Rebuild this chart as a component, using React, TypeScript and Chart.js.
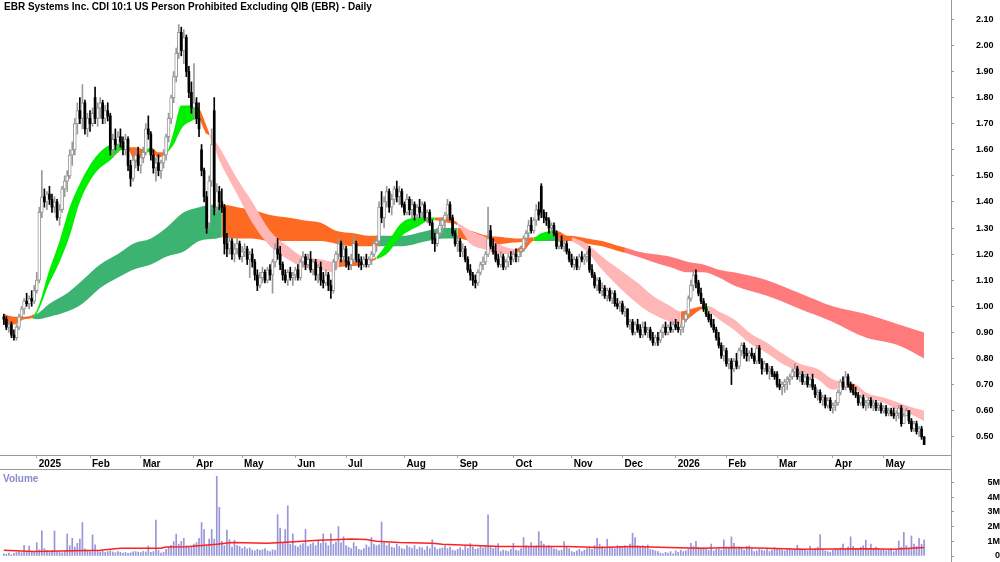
import React, { useEffect, useRef } from 'react';
import { Chart, registerables } from 'chart.js';

Chart.register(...registerables);

const FONT = '"Liberation Sans", Arial, Helvetica, sans-serif';
const TITLE = 'EBR Systems Inc. CDI 10:1 US Person Prohibited Excluding QIB (EBR) - Daily';

// Daily bars (prices in cents), one entry per trading day, mid Dec 2024 .. late May 2026
const opens = [
  96,95,92,93,89,88,92,96,99,102, 101,103,102,106,110,136,142,140,143,141,
  138,140,134,137,145,148,150,158,160,170, 175,172,178,168,172,170,180,172,176,178,
  172,175,173,160,164,162,165,163,160,164, 154,149,156,158,154,157,159,168,166,158,
  153,155,152,155,158,165,172,180,188,197, 205,198,203,190,182,176,178,172,160,152,
  142,132,148,175,138,144,140,138,124,122, 125,120,122,124,119,121,122,118,120,117,
  112,108,111,113,110,114,112,117,122,120, 116,112,110,113,111,112,114,111,117,119,
  116,118,114,117,112,115,110,109,112,108, 106,117,120,124,119,122,117,116,118,124,
  118,117,116,118,116,118,120,124,125,138, 134,140,144,138,141,145,142,144,139,136,
  141,137,139,135,138,136,139,134,136,132, 126,124,128,131,133,135,139,134,128,124,
  125,121,122,118,114,112,110,109,113,116, 117,120,129,123,121,118,116,119,115,117,
  119,118,120,119,121,122,126,128,131,129, 133,137,146,136,134,133,130,131,128,123,
  125,123,124,121,118,116,118,115,119,118, 119,122,114,112,108,110,106,107,104,106,
  103,105,101,100,101,98,99,93,94,90, 93,91,89,92,90,91,88,86,88,87,
  90,92,90,92,91,93,92,91,92,95, 97,103,108,112,109,105,102,99,97,95,
  93,91,88,85,81,83,78,79,76,79, 77,83,85,82,81,82,81,79,84,79,
  76,78,75,76,74,74,70,69,70,71, 72,73,75,76,73,74,71,73,70,72,
  69,66,67,64,65,62,64,61,62,63, 67,71,69,73,70,68,67,66,63,65,
  62,63,64,62,63,61,62,60,61,59, 60,59,58,59,61,55,58,60,56,53,
  55,52,53,50,
];
const highs = [
  97,96,94,94,91,93,97,100,103,105, 104,106,108,113,138,152,145,144,146,143,
  142,141,139,146,150,152,160,163,172,178, 180,185,179,174,175,176,184,178,180,179,
  177,178,174,166,168,167,168,165,166,165, 156,157,160,161,158,161,170,173,167,160,
  157,158,156,160,166,174,181,190,199,208, 207,206,204,192,186,193,180,178,162,153,
  144,150,168,180,147,146,145,139,128,127, 126,124,126,125,123,124,123,121,122,118,
  114,113,115,114,115,116,118,124,126,123, 117,114,114,115,113,115,116,118,121,120,
  120,121,118,118,116,117,113,114,113,110, 118,121,126,125,124,123,119,120,127,125,
  120,119,119,120,119,121,125,127,140,144, 142,146,145,143,146,148,146,145,140,143,
  142,141,140,139,141,140,140,137,137,133, 128,130,133,134,136,141,140,135,129,127,
  126,124,123,119,116,113,112,114,117,119, 121,138,131,126,124,120,121,120,118,120,
  121,121,122,121,123,127,129,133,134,134, 139,140,147,137,136,134,132,132,129,126,
  127,125,125,122,120,119,119,120,121,120, 121,123,116,113,111,111,109,108,107,107,
  106,106,103,102,102,100,99,95,95,94, 95,93,94,94,92,92,90,89,90,91,
  93,94,93,94,94,95,94,93,96,98, 104,110,114,114,110,107,103,101,98,97,
  95,92,90,86,85,84,80,80,80,82, 84,86,86,84,83,84,82,85,85,80,
  79,78,77,77,75,75,72,71,72,73, 74,76,78,77,75,75,74,74,73,74,
  70,68,68,66,66,65,65,63,64,68, 72,73,75,74,71,70,69,67,66,66,
  64,65,65,64,64,63,63,62,62,61, 61,61,60,62,62,59,61,60,57,56,
  56,54,54,50,
];
const lows = [
  93,91,90,88,87,87,91,95,97,100, 99,100,101,105,109,134,138,137,139,136,
  136,133,131,136,142,144,149,154,158,166, 170,168,166,165,167,169,170,169,172,170,
  170,171,158,157,160,159,161,158,158,152, 146,148,153,152,151,155,158,164,156,151,
  148,150,149,153,156,163,170,178,186,195, 196,193,188,180,174,172,170,165,150,140,
  128,130,146,135,136,137,136,120,119,120, 118,117,120,118,117,119,116,111,115,110,
  106,107,109,109,109,110,105,115,118,114, 110,109,108,110,108,110,110,110,115,114,
  115,113,112,110,109,108,107,108,106,103, 105,114,118,117,116,115,114,114,117,117,
  115,114,115,115,115,116,119,121,124,132, 130,138,136,135,139,140,139,138,135,135,
  135,134,133,133,134,134,133,132,131,124, 121,123,127,128,130,134,133,127,123,121,
  119,119,117,113,110,108,107,108,112,114, 116,119,122,120,117,115,115,114,114,115,
  116,117,117,117,119,121,124,126,128,128, 131,133,134,132,131,128,127,127,122,122,
  122,121,120,117,115,114,114,114,117,116, 117,113,111,107,106,105,104,103,102,102,
  101,100,99,98,97,96,92,91,89,89, 90,88,88,89,88,87,85,85,85,86,
  88,89,89,90,90,91,90,89,90,94, 96,102,106,107,104,101,98,96,94,92,
  90,87,84,80,79,77,76,70,75,76, 76,81,80,79,79,80,78,78,78,74,
  75,74,72,73,72,69,68,66,67,68, 70,72,73,72,71,70,70,69,69,68,
  65,64,63,62,61,61,60,59,60,62, 66,68,68,69,67,66,65,62,62,61,
  60,61,61,60,60,60,59,59,58,58, 58,57,56,57,54,55,58,55,52,52,
  51,50,49,47,
];
const closes = [
  95,92,93,89,88,92,96,99,102,101, 103,102,106,110,136,142,140,143,141,138,
  140,134,137,145,148,150,158,160,170,175, 172,178,168,172,170,174,172,176,178,172,
  175,173,160,164,162,165,163,160,164,154, 149,156,158,154,157,159,168,166,158,153,
  155,152,155,158,165,172,180,188,197,205, 198,203,190,182,176,178,172,168,152,142,
  130,148,162,138,144,140,138,124,122,125, 120,122,124,119,121,122,118,120,117,112,
  108,111,113,110,114,112,117,122,120,116, 112,110,113,111,112,114,111,117,119,116,
  118,114,117,112,115,110,109,112,108,106, 117,120,124,119,122,117,116,118,124,118,
  117,116,118,116,118,120,124,125,138,134, 140,144,138,141,145,142,144,139,136,141,
  137,139,135,138,136,139,134,136,132,126, 124,128,131,133,135,139,134,128,124,125,
  121,122,118,114,112,110,109,113,116,117, 120,126,123,121,118,116,119,115,117,119,
  118,120,119,121,122,126,128,131,129,133, 137,135,136,134,133,130,131,128,123,125,
  123,124,121,118,116,118,115,119,118,119, 120,114,112,108,110,106,107,104,106,103,
  105,101,100,101,98,99,93,94,90,93, 91,89,92,90,91,88,86,88,87,90,
  92,90,92,91,93,92,91,92,95,97, 103,108,112,109,105,102,99,97,95,93,
  91,88,85,81,83,78,79,76,79,77, 83,85,82,81,82,81,79,84,79,76,
  78,75,76,74,73,70,69,70,71,72, 73,75,76,73,74,71,73,70,72,69,
  66,67,64,65,62,64,61,62,63,67, 71,69,73,70,68,67,66,63,65,62,
  63,64,62,63,61,62,60,61,59,60, 59,58,59,61,55,58,60,56,53,55,
  52,53,50,47,
];
// Daily volume in thousands of shares
const volumesK = [
  150,120,200,90,180,250,300,220,730,280, 680,300,240,900,420,1700,500,380,260,350,
  1700,300,260,220,380,1500,700,1200,600,860, 1140,2270,480,400,300,1430,750,350,280,320,
  250,300,360,280,220,300,260,200,240,180, 220,280,300,260,240,310,280,680,250,300,
  2430,380,200,260,450,600,720,980,1480,800, 1000,1200,700,650,600,800,900,1200,2270,1800,
  700,1140,1800,1140,5400,3300,1000,700,1750,1100, 600,1070,700,650,500,620,480,550,400,350,
  450,380,420,500,350,300,420,380,2800,1900, 900,1800,3400,800,1500,700,600,750,850,1800,
  650,800,900,700,1000,850,1500,900,700,1500, 800,950,2000,900,1300,700,600,500,900,650,
  450,400,500,750,600,1250,800,700,750,2300, 900,700,850,600,550,800,650,500,450,700,
  600,500,700,450,600,550,400,650,500,1100, 600,450,500,550,700,500,600,400,350,450,
  550,400,700,500,840,600,450,500,650,550, 700,2800,650,500,600,840,300,400,350,300,
  450,860,400,350,500,1250,700,650,910,600, 700,1660,1000,800,650,700,600,500,450,350,
  400,980,600,500,300,250,350,450,300,400, 500,600,450,700,1200,800,650,500,1140,600,
  550,500,700,650,600,700,550,800,1550,1250, 700,650,700,600,750,450,400,350,300,200,
  150,250,200,300,150,350,250,400,300,350, 500,860,650,1000,600,450,550,500,400,800,
  350,450,500,400,1100,600,550,1300,860,500, 600,550,400,650,700,500,300,350,450,400,
  350,450,300,400,570,450,500,400,350,450, 500,400,450,730,500,400,450,350,680,400,
  500,600,1450,450,350,300,250,400,500,450, 550,800,450,600,1300,650,500,450,600,700,
  1070,500,800,450,600,500,400,450,350,400, 500,300,450,1020,600,1600,700,500,1360,800,
  650,1200,800,1100,
];

// Month axis: first trading day (bar index) of each month and its label
const monthTickIdx = [13, 34, 54, 75, 94, 115, 135, 158, 179, 201, 224, 244, 265, 285, 305, 327, 347];
const monthTickLabels = ['2025', 'Feb', 'Mar', 'Apr', 'May', 'Jun', 'Jul', 'Aug', 'Sep', 'Oct', 'Nov', 'Dec', '2026', 'Feb', 'Mar', 'Apr', 'May'];

const priceTicks = [0.5, 0.6, 0.7, 0.8, 0.9, 1.0, 1.1, 1.2, 1.3, 1.4, 1.5, 1.6, 1.7, 1.8, 1.9, 2.0, 2.1];
const priceTickLabels = ['0.50', '0.60', '0.70', '0.80', '0.90', '1.00', '1.10', '1.20', '1.30', '1.40', '1.50', '1.60', '1.70', '1.80', '1.90', '2.00', '2.10'];
const volTicks = [0, 1e6, 2e6, 3e6, 4e6, 5e6];
const volTickLabels = ['0', '1M', '2M', '3M', '4M', '5M'];

// Short-term ribbon (read at sample bars): edges and trend state of each segment
const shortIdx = [0,4,8,12,18, 22,26,30,36,42, 47,49,52,56,58, 61,64,67,70,74, 77,78,80,81,85, 92,98,105,112,118, 125,130,132,140,147, 151,157,164,168,170, 175,179,184,189,197, 202,205,209,212,218, 222,224,230,236,243, 250,256,263,267,271, 276,278,282,288,294, 301,307,314,321,327, 331,336,340,347,353, 359,363];
const shortHi = [0.97,0.96,0.96,0.97,1.14, 1.25,1.38,1.47,1.57,1.62, 1.63,1.61,1.61,1.60,1.61, 1.59,1.59,1.67,1.77,1.77, 1.76,1.74,1.69,1.665,1.61, 1.49,1.40,1.29,1.23,1.19, 1.18,1.17,1.18,1.17,1.19, 1.24,1.32,1.34,1.34,1.34, 1.34,1.32,1.29,1.27,1.23, 1.22,1.24,1.26,1.28,1.29, 1.27,1.265,1.24,1.19,1.14, 1.09,1.04,1.00,0.98,0.99, 1.00,1.00,0.98,0.95,0.90, 0.86,0.82,0.78,0.76,0.72, 0.71,0.70,0.67,0.65,0.63, 0.61,0.60];
const shortLo = [0.93,0.93,0.95,0.96,1.09, 1.17,1.27,1.40,1.51,1.56, 1.60,1.60,1.55,1.59,1.59, 1.57,1.585,1.62,1.68,1.71, 1.72,1.70,1.66,1.655,1.56, 1.43,1.32,1.23,1.18,1.15, 1.14,1.13,1.15,1.155,1.18, 1.20,1.27,1.31,1.33,1.33, 1.32,1.31,1.24,1.22,1.20, 1.20,1.21,1.25,1.25,1.265, 1.26,1.25,1.21,1.14,1.07, 1.01,0.97,0.94,0.93,0.96, 0.99,0.98,0.95,0.91,0.86, 0.82,0.78,0.75,0.72,0.68, 0.69,0.68,0.65,0.63,0.60, 0.58,0.56];
const shortTrend = ['m','m','m','u','u', 'u','u','u','u','u', 'u','m','m','u','m', 'm','u','u','u','u', 'm','m','m','d','d', 'd','d','d','d','d', 'd','d','m','m','u', 'u','u','u','u','m', 'm','d','d','d','d', 'm','m','u','u','m', 'm','d','d','d','d', 'd','d','d','m','m', 'u','d','d','d','d', 'd','d','d','d','d', 'm','d','d','d','d', 'd','d'];

// Long-term ribbon
const longIdx = [10,13,18,25,31, 38,45,51,58,64, 71,77,84,86,92, 98,105,112,118,125, 131,138,144,148,157, 167,174,179,184,191, 197,203,209,218,223, 230,236,243,245,250, 256,263,270,276,282, 288,301,314,327,340, 353,363];
const longHi = [0.96,0.97,1.01,1.05,1.10, 1.16,1.20,1.24,1.26,1.30, 1.36,1.38,1.39,1.39,1.38, 1.37,1.35,1.34,1.33,1.32, 1.29,1.28,1.27,1.27,1.27, 1.29,1.30,1.30,1.29,1.27, 1.265,1.26,1.265,1.27,1.27, 1.26,1.25,1.23,1.225,1.21, 1.20,1.19,1.17,1.16,1.14, 1.13,1.10,1.05,1.00,0.97, 0.93,0.90];
const longLo = [0.96,0.95,0.96,0.98,1.01, 1.07,1.11,1.14,1.16,1.19, 1.21,1.25,1.26,1.265,1.26, 1.26,1.25,1.25,1.25,1.25, 1.24,1.23,1.23,1.23,1.23, 1.25,1.26,1.26,1.25,1.23, 1.24,1.245,1.25,1.25,1.25, 1.24,1.23,1.21,1.205,1.19, 1.17,1.15,1.13,1.13,1.11, 1.08,1.04,0.99,0.94,0.88, 0.85,0.80];
const longTrend = ['u','u','u','u','u', 'u','u','u','u','u', 'u','u','u','m','m', 'm','m','m','m','m', 'm','m','m','u','u', 'u','u','m','m','m', 'm','m','u','m','m', 'm','m','m','d','d', 'd','d','d','d','d', 'd','d','d','d','d', 'd','d'];

// Volume moving average (thousands), read at sample bars
const volMaIdx = [0,12,38,46,62, 64,72,84,90,104, 113,124,130,137,143, 147,156,169,173,183, 196,222,235,248,262, 275,288,301,314,327, 341,351,363];
const volMaK = [390,300,390,520,520, 610,630,800,910,860, 950,1070,1110,1160,1120, 1000,910,860,800,730, 640,640,570,640,570, 520,570,520,450,480, 500,450,570];

const SHORT_FILL: Record<string, string> = { u: '#00ee00', m: '#ff6a22', d: '#ffb6b6' };
const LONG_FILL: Record<string, string> = { u: '#3cb371', m: '#ff6a22', d: '#ff7b7b' };

const X_MIN = -1.5;
const X_MAX = 373.6;

function pts(idx: number[], vals: number[], k = 1) {
  return idx.map((x, i) => ({ x, y: vals[i] * k }));
}

function buildCandles() {
  const upBody: any[] = [], downBody: any[] = [], upWick: any[] = [], downWick: any[] = [];
  for (let i = 0; i < closes.length; i++) {
    const o = opens[i] / 100, h = highs[i] / 100, l = lows[i] / 100, c = closes[i] / 100;
    const body = { x: i, y: [Math.min(o, c), Math.max(o, c)] };
    const wick = { x: i, y: [l, h] };
    if (c >= o) { upBody.push(body); upWick.push(wick); } else { downBody.push(body); downWick.push(wick); }
  }
  return { upBody, downBody, upWick, downWick };
}

function priceConfig(): any {
  const { upBody, downBody, upWick, downWick } = buildCandles();
  const line = { type: 'line', pointRadius: 0, borderWidth: 0, borderColor: 'rgba(0,0,0,0)', cubicInterpolationMode: 'monotone' };
  return {
    type: 'bar',
    data: {
      datasets: [
        { type: 'bar', data: downBody, backgroundColor: '#000', barThickness: 2, grouped: false, minBarLength: 1, order: 0 },
        { type: 'bar', data: upBody, backgroundColor: '#fff', borderColor: '#999', borderWidth: 1, borderSkipped: false, barThickness: 3, grouped: false, minBarLength: 1, order: 0 },
        { type: 'bar', data: downWick, backgroundColor: '#000', barThickness: 1, grouped: false, order: 1 },
        { type: 'bar', data: upWick, backgroundColor: '#999', barThickness: 1, grouped: false, order: 1 },
        { ...line, data: pts(shortIdx, shortHi), fill: false, order: 2 },
        { ...line, data: pts(shortIdx, shortLo), fill: '-1', backgroundColor: SHORT_FILL.d, order: 2,
          segment: { backgroundColor: (c: any) => SHORT_FILL[shortTrend[c.p0DataIndex]] } },
        { ...line, data: pts(longIdx, longHi), fill: false, order: 3 },
        { ...line, data: pts(longIdx, longLo), fill: '-1', backgroundColor: LONG_FILL.d, order: 3,
          segment: { backgroundColor: (c: any) => LONG_FILL[longTrend[c.p0DataIndex]] } },
      ],
    },
    options: {
      responsive: false,
      animation: false,
      events: [],
      layout: { padding: 0 },
      plugins: { legend: { display: false }, tooltip: { enabled: false }, title: { display: false } },
      scales: {
        x: {
          type: 'linear', min: X_MIN, max: X_MAX, position: 'bottom', offset: false,
          afterBuildTicks: (s: any) => { s.ticks = monthTickIdx.map((v) => ({ value: v })); },
          afterFit: (s: any) => { s.height = 15; s.paddingLeft = 0; s.paddingRight = 0; },
          ticks: {
            autoSkip: false, maxRotation: 0, minRotation: 0, align: 'start', labelOffset: 2, padding: 0,
            color: '#000', font: { family: FONT, size: 10, weight: 'bold' },
            callback: (_v: any, i: number) => monthTickLabels[i],
          },
          grid: { display: true, drawOnChartArea: false, drawTicks: true, tickLength: 3, offset: false, color: '#aaa' },
          border: { display: true, color: '#999', width: 1 },
        },
        y: {
          type: 'linear', position: 'right', min: 0.43, max: 2.174,
          afterBuildTicks: (s: any) => { s.ticks = priceTicks.map((v) => ({ value: v })); },
          afterFit: (s: any) => { s.width = 49; s.paddingTop = 0; s.paddingBottom = 0; },
          ticks: {
            padding: 22, crossAlign: 'near', color: '#000', font: { family: FONT, size: 9, weight: 'bold' },
            callback: (_v: any, i: number) => priceTickLabels[i],
          },
          grid: { display: true, drawOnChartArea: false, drawTicks: true, tickLength: 3, color: '#999' },
          border: { display: false },
        },
      },
    },
  };
}

function volumeConfig(): any {
  return {
    type: 'bar',
    data: {
      datasets: [
        { type: 'line', data: pts(volMaIdx, volMaK, 1000), borderColor: '#ff2020', borderWidth: 1.5, pointRadius: 0, tension: 0, fill: false, order: 0 },
        { type: 'bar', data: volumesK.map((v, i) => ({ x: i, y: v * 1000 })), backgroundColor: '#9696d8', barThickness: 1, grouped: false, order: 1 },
      ],
    },
    options: {
      responsive: false,
      animation: false,
      events: [],
      layout: { padding: { top: 0, bottom: 6, left: 0, right: 0 } },
      plugins: { legend: { display: false }, tooltip: { enabled: false }, title: { display: false } },
      scales: {
        x: {
          type: 'linear', min: X_MIN, max: X_MAX, position: 'top', offset: false,
          afterFit: (s: any) => { s.height = 0; s.paddingLeft = 0; s.paddingRight = 0; },
          ticks: { display: false },
          grid: { display: true, drawOnChartArea: false, drawTicks: false, offset: false, color: 'rgba(0,0,0,0)' },
          border: { display: true, color: '#999', width: 1 },
        },
        y: {
          type: 'linear', position: 'right', min: 0, max: 5.9e6,
          afterBuildTicks: (s: any) => { s.ticks = volTicks.map((v) => ({ value: v })); },
          afterFit: (s: any) => { s.width = 49; s.paddingTop = 0; s.paddingBottom = 0; },
          ticks: {
            padding: 30, crossAlign: 'far', color: '#000', font: { family: FONT, size: 9, weight: 'bold' },
            callback: (_v: any, i: number) => volTickLabels[i],
          },
          grid: { display: true, drawOnChartArea: false, drawTicks: true, tickLength: 3, color: '#999' },
          border: { display: false },
        },
      },
    },
  };
}

export default function App() {
  const priceRef = useRef<HTMLCanvasElement>(null);
  const volRef = useRef<HTMLCanvasElement>(null);

  useEffect(() => {
    const pc = new Chart(priceRef.current as HTMLCanvasElement, priceConfig());
    const vc = new Chart(volRef.current as HTMLCanvasElement, volumeConfig());
    return () => { pc.destroy(); vc.destroy(); };
  }, []);

  return (
    <div style={{ position: 'fixed', left: 0, top: 0, width: 1000, height: 562, background: '#fff', overflow: 'hidden' }}>
      <canvas ref={priceRef} width={1000} height={470} style={{ position: 'absolute', left: 0, top: 0 }} />
      <canvas ref={volRef} width={1000} height={93} style={{ position: 'absolute', left: 0, top: 469 }} />
      <div style={{ position: 'absolute', left: 951, top: 0, width: 1, height: 562, background: '#999' }} />
      <div style={{ position: 'absolute', left: 4, top: 1, font: `bold 10px ${FONT}`, lineHeight: '12px', color: '#000', whiteSpace: 'nowrap' }}>{TITLE}</div>
      <div style={{ position: 'absolute', left: 3, top: 473, font: `bold 10px ${FONT}`, lineHeight: '12px', color: '#8a8acc', whiteSpace: 'nowrap' }}>Volume</div>
    </div>
  );
}
